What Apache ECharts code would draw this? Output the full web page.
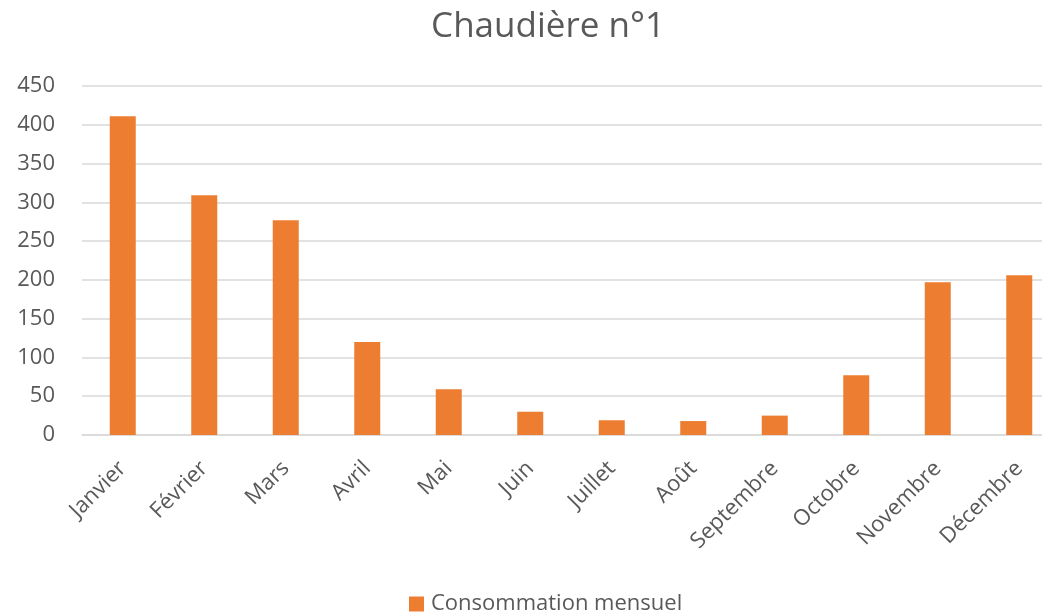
<!DOCTYPE html>
<html><head><meta charset="utf-8">
<script src="https://cdn.jsdelivr.net/npm/echarts@6/dist/echarts.min.js"></script>
<style>html,body{margin:0;padding:0;background:#fff;overflow:hidden}#c{width:1062px;height:616px}</style>
</head><body><div id="c"></div>
<script>
const categories = ['Janvier','Février','Mars','Avril','Mai','Juin','Juillet','Août','Septembre','Octobre','Novembre','Décembre'];
const consommation = [411, 309, 277, 120, 59, 30, 19, 18, 25, 77, 197, 206];
const yTicks = {min: 0, max: 450, interval: 50};
const chart = echarts.init(document.getElementById('c'));
const font = '"Open Sans", "Liberation Sans", sans-serif';
chart.setOption({
  animation: false,
  textStyle: {fontFamily: font},
  title: {text: 'Chaudière n°1', left: 543, top: 5, textAlign: 'center',
    textStyle: {fontFamily: font, fontSize: 35, fontWeight: 'normal', color: '#595959'}},
  legend: {top: 588, left: 404, itemWidth: 15, itemHeight: 15, itemGap: 6,
    icon: 'rect',
    textStyle: {fontFamily: font, fontSize: 22, color: '#595959', padding: [0,0,0,2]},
    data: ['Consommation mensuel']},
  grid: {left: 82, width: 978, top: 86, height: 349, containLabel: false},
  xAxis: {type: 'category', data: categories,
    axisLine: {lineStyle: {color: '#d9d9d9', width: 1.5}},
    axisTick: {show: false},
    axisLabel: {rotate: 45, fontSize: 22, color: '#595959', margin: 30, interval: 0, fontFamily: font}},
  yAxis: {type: 'value', min: yTicks.min, max: yTicks.max, interval: yTicks.interval,
    axisLine: {show: false}, axisTick: {show: false},
    axisLabel: {fontSize: 22, color: '#595959', margin: 27, fontFamily: font},
    splitLine: {lineStyle: {color: '#d9d9d9', width: 1.5}}},
  series: [{name: 'Consommation mensuel', type: 'bar', data: consommation, barWidth: 26,
    itemStyle: {color: '#ED7D31'}}]
});
</script></body></html>
